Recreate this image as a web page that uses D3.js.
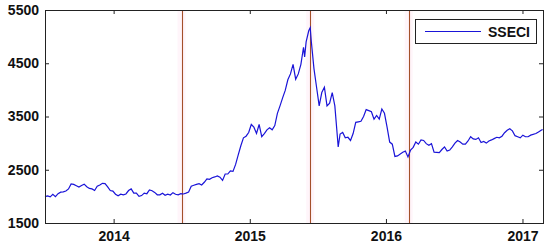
<!DOCTYPE html>
<html><head><meta charset="utf-8">
<script src="https://cdn.jsdelivr.net/npm/d3@7"></script>
<style>html,body{margin:0;padding:0;background:#fff;}svg{display:block;}</style>
</head><body>
<svg id="chart" width="550" height="248"></svg>
<script>
const dates = ["2013-07-01","2013-07-08","2013-07-15","2013-07-22","2013-07-29","2013-08-05","2013-08-12","2013-08-19","2013-08-26","2013-09-02","2013-09-09","2013-09-16","2013-09-23","2013-09-30","2013-10-07","2013-10-14","2013-10-21","2013-10-28","2013-11-04","2013-11-11","2013-11-18","2013-11-25","2013-12-02","2013-12-09","2013-12-16","2013-12-23","2013-12-30",
"2014-01-06","2014-01-13","2014-01-20","2014-01-27","2014-02-03","2014-02-10","2014-02-17","2014-02-24","2014-03-03","2014-03-10","2014-03-17","2014-03-24","2014-03-31","2014-04-07","2014-04-14","2014-04-21","2014-04-28","2014-05-05","2014-05-12","2014-05-19","2014-05-26","2014-06-02","2014-06-09","2014-06-16","2014-06-23","2014-06-30","2014-07-07","2014-07-14","2014-07-21","2014-07-28","2014-08-04","2014-08-11","2014-08-18","2014-08-25","2014-09-01","2014-09-08","2014-09-15","2014-09-22","2014-09-29","2014-10-06","2014-10-13","2014-10-20","2014-10-27","2014-11-03","2014-11-10","2014-11-17","2014-11-24","2014-12-01","2014-12-08","2014-12-15","2014-12-22","2014-12-29",
"2015-01-05","2015-01-12","2015-01-19","2015-01-26","2015-02-02","2015-02-09","2015-02-16","2015-02-23","2015-03-02","2015-03-09","2015-03-16","2015-03-23","2015-03-30","2015-04-06","2015-04-13","2015-04-20","2015-04-27","2015-05-04","2015-05-11","2015-05-18","2015-05-25","2015-05-28","2015-06-01","2015-06-08","2015-06-12","2015-06-15","2015-06-22","2015-06-29","2015-07-06","2015-07-13","2015-07-20","2015-07-27","2015-08-03","2015-08-10","2015-08-17","2015-08-24","2015-08-26","2015-08-31","2015-09-07","2015-09-14","2015-09-21","2015-09-28","2015-10-05","2015-10-12","2015-10-19","2015-10-26","2015-11-02","2015-11-09","2015-11-16","2015-11-23","2015-11-30","2015-12-07","2015-12-14","2015-12-21","2015-12-28",
"2016-01-04","2016-01-11","2016-01-18","2016-01-25","2016-02-01","2016-02-15","2016-02-22","2016-02-29","2016-03-07","2016-03-14","2016-03-21","2016-03-28","2016-04-04","2016-04-11","2016-04-18","2016-04-25","2016-05-02","2016-05-09","2016-05-16","2016-05-23","2016-05-30","2016-06-06","2016-06-13","2016-06-20","2016-06-27","2016-07-04","2016-07-11","2016-07-18","2016-07-25","2016-08-01","2016-08-08","2016-08-15","2016-08-22","2016-08-29","2016-09-05","2016-09-12","2016-09-19","2016-09-26","2016-10-03","2016-10-10","2016-10-17","2016-10-24","2016-10-31","2016-11-07","2016-11-14","2016-11-21","2016-11-28","2016-12-05","2016-12-12","2016-12-19","2016-12-26",
"2017-01-02","2017-01-09","2017-01-16","2017-01-23","2017-02-06","2017-02-13","2017-02-20","2017-02-24"];
const values = [1995,2010,1990,2040,1995,2050,2080,2085,2100,2140,2235,2225,2200,2175,2205,2230,2180,2150,2140,2110,2190,2215,2245,2240,2180,2110,2100,
2040,2010,2040,2030,2045,2110,2140,2060,2060,2000,2015,2060,2050,2120,2105,2075,2030,2030,2060,2020,2040,2025,2070,2040,2030,2050,2045,2060,2080,2190,2210,2225,2240,2215,2265,2330,2320,2350,2365,2385,2360,2300,2420,2420,2480,2470,2600,2780,2950,3100,3130,3200,
3350,3300,3180,3350,3120,3180,3250,3290,3250,3330,3560,3700,3850,3990,4190,4300,4480,4200,4300,4480,4800,4620,4900,5110,5166,4900,4400,4050,3700,3950,4050,3700,3750,3950,3700,3100,2930,3170,3200,3100,3110,3050,3180,3390,3400,3410,3500,3630,3610,3590,3450,3520,3450,3640,3560,
3300,3020,2980,2750,2760,2830,2850,2740,2870,2920,3020,2980,3060,3050,2990,2960,2990,2830,2825,2820,2880,2930,2850,2870,2930,3000,3050,3020,2980,2980,3040,3120,3080,3070,3100,3010,3030,3000,3040,3060,3085,3110,3100,3130,3195,3240,3270,3230,3140,3120,3100,
3150,3120,3120,3150,3180,3210,3240,3255];
const eventDates = ["2014-07-02","2015-06-12","2016-03-02"];
const yTicks = [1500,2500,3500,4500,5500];
const xTickYears = ["2014","2015","2016","2017"];
const seriesName = "SSECI";

const parse = d3.timeParse("%Y-%m-%d");
const data = dates.map((d,i)=>({date:parse(d), value:values[i]}));
const svg = d3.select("#chart");
const L=45, R=543, T=10, B=223;
const x = d3.scaleTime().domain([parse("2013-07-01"), parse("2017-02-25")]).range([L,R]);
const y = d3.scaleLinear().domain([1500,5500]).range([B,T]);
const font = "'Liberation Sans', Arial, sans-serif";

// event markers
eventDates.forEach(d=>{
  const xv = x(parse(d));
  svg.append("rect").attr("x", xv-4).attr("y", T).attr("width", 8).attr("height", B-T).attr("fill", "#fff5fa");
});
eventDates.forEach(d=>{
  const xv = Math.round(x(parse(d)))+0.5;
  svg.append("line").attr("x1", xv).attr("x2", xv).attr("y1", T).attr("y2", B)
    .attr("stroke", "#a4502a").attr("stroke-width", 1.1);
});

// line
svg.append("path").datum(data)
  .attr("fill","none").attr("stroke","#1a14d8").attr("stroke-width",1.2)
  .attr("d", d3.line().x(d=>x(d.date)).y(d=>y(d.value)));

// axes
const xTickDates = xTickYears.map(s=>parse(s+"-01-01"));
const axB = d3.axisBottom(x).tickValues(xTickDates).tickSize(-4).tickPadding(8).tickFormat(d3.timeFormat("%Y"));
const axT = d3.axisTop(x).tickValues(xTickDates).tickSize(-4).tickFormat("");
const axL = d3.axisLeft(y).tickValues(yTicks).tickSize(-4).tickPadding(6).tickFormat(d3.format("d"));
const axR = d3.axisRight(y).tickValues(yTicks).tickSize(-4).tickFormat("");
function style(g){
  g.selectAll(".domain").remove();
  g.selectAll(".tick line").attr("stroke","#222");
  g.selectAll("text").attr("font-family",font).attr("font-size","14px").attr("font-weight","bold").attr("fill","#111");
}
svg.append("g").attr("transform",`translate(0,${B})`).call(axB).call(style);
svg.append("g").attr("transform",`translate(0,${T})`).call(axT).call(style);
svg.append("g").attr("transform",`translate(${L},0)`).call(axL).call(style);
svg.append("g").attr("transform",`translate(${R},0)`).call(axR).call(style);

svg.append("rect").attr("x",L+0.5).attr("y",T+0.5).attr("width",R-L).attr("height",B-T)
  .attr("fill","none").attr("stroke","#222").attr("stroke-width",1);

// legend
const lg = svg.append("g");
lg.append("rect").attr("x",415.5).attr("y",19.5).attr("width",121).attr("height",24)
  .attr("fill","#fff").attr("stroke","#222");
lg.append("line").attr("x1",425).attr("x2",481).attr("y1",31.5).attr("y2",31.5).attr("stroke","#1a14d8").attr("stroke-width",1.2);
lg.append("text").attr("x",488).attr("y",37).text(seriesName)
  .attr("font-family",font).attr("font-size","14px").attr("font-weight","bold").attr("fill","#111");
</script>
</body></html>
